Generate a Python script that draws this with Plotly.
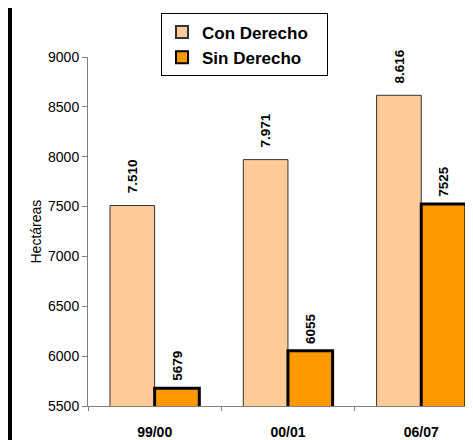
import plotly.graph_objects as go

categories = ["99/00", "00/01", "06/07"]
con_derecho = [7510, 7971, 8616]
sin_derecho = [5679, 6055, 7525]
con_labels = ["7.510", "7.971", "8.616"]
sin_labels = ["5679", "6055", "7525"]
y_ticks = [5500, 6000, 6500, 7000, 7500, 8000, 8500, 9000]

FONT = "Liberation Sans, Arial, sans-serif"
# page body has an 8px margin; figure is sized/placed to compensate
OFF = 8
W, H = 473 - OFF, 440 - OFF
ML, MR, MT, MB = 88 - OFF, 0, 57 - OFF, 30
PW = W - ML - MR
PH = H - MT - MB

fig = go.Figure()
fig.add_trace(go.Bar(
    name="<b>Con Derecho</b>&nbsp;&nbsp;&nbsp;", x=categories, y=con_derecho,
    marker=dict(color="#FFCC99", line=dict(color="#333333", width=1)),
))
fig.add_trace(go.Bar(
    name="<b>Sin Derecho</b>", x=categories, y=sin_derecho,
    marker=dict(color="#FF9900", line=dict(color="#000000", width=3)),
))

annotations = []
for c, v, t in zip(categories, con_derecho, con_labels):
    annotations.append(dict(x=c, y=v, xref="x", yref="y", text="<b>" + t + "</b>", showarrow=False,
                            textangle=-90, xanchor="center", yanchor="bottom",
                            xshift=-22, yshift=10,
                            font=dict(family=FONT, size=13.5, color="black")))
for c, v, t in zip(categories, sin_derecho, sin_labels):
    annotations.append(dict(x=c, y=v, xref="x", yref="y", text="<b>" + t + "</b>", showarrow=False,
                            textangle=-90, xanchor="center", yanchor="bottom",
                            xshift=22, yshift=5,
                            font=dict(family=FONT, size=13.5, color="black")))
annotations.append(dict(x=(35 - OFF - ML) / PW, y=0.5, xref="paper", yref="paper",
                        text="Hectáreas", showarrow=False, textangle=-90,
                        xanchor="center", yanchor="middle",
                        font=dict(family=FONT, size=14, color="black")))

fig.add_shape(type="line", xref="paper", yref="paper",
              x0=(10 - OFF - ML) / PW, x1=(10 - OFF - ML) / PW,
              y0=-MB / PH - 0.05, y1=1 + MT / PH + 0.05,
              line=dict(color="black", width=4))

fig.update_layout(
    width=W, height=H,
    margin=dict(l=ML, r=MR, t=MT, b=MB),
    paper_bgcolor="white", plot_bgcolor="white",
    barmode="group", bargap=0.33, bargroupgap=0,
    font=dict(family=FONT, size=14, color="black"),
    showlegend=True,
    legend=dict(x=(161 - OFF - ML) / PW, y=1 + (MT - (13 - OFF)) / PH,
                xanchor="left", yanchor="top",
                bordercolor="black", borderwidth=1, bgcolor="white",
                font=dict(family=FONT, size=17, color="black"),
                itemsizing="constant", tracegroupgap=0),
    annotations=annotations,
    xaxis=dict(showline=True, linecolor="#808080", linewidth=1,
               ticks="outside", tickson="boundaries", ticklen=4, tickcolor="#808080",
               range=[-0.5, -0.5 + PW / 133.3], showgrid=False,
               ticklabelstandoff=13,
               tickfont=dict(family=FONT, size=14, color="black"),
               tickprefix="<b>", ticksuffix="</b>"),
    yaxis=dict(showline=True, linecolor="#808080", linewidth=1,
               ticks="outside", ticklen=5, tickcolor="#808080",
               range=[5500, 9000], tickvals=y_ticks, showgrid=False, zeroline=False,
               tickfont=dict(family=FONT, size=14, color="black"),
               tickprefix="<b>", ticksuffix="</b>"),
)

fig.write_html("out.html")
